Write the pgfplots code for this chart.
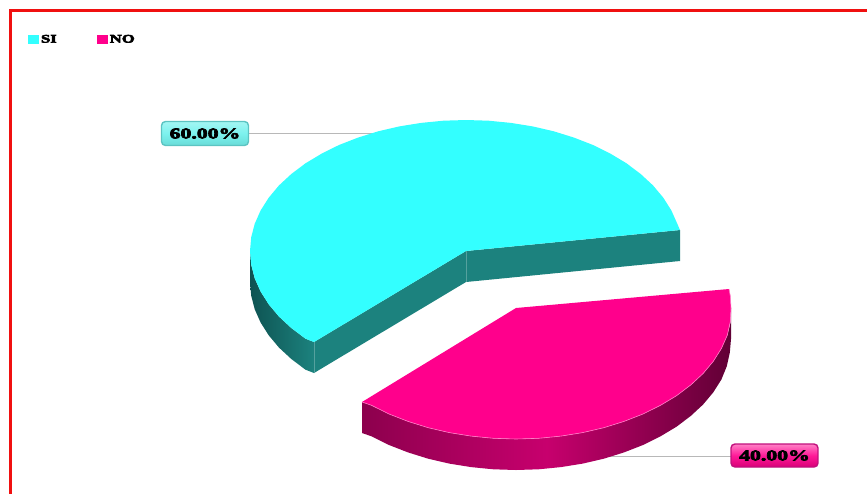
\documentclass[border=0pt]{standalone}
\usepackage{fontspec}
\usepackage{pgfplots}
\pgfplotsset{compat=1.18}
\newfontfamily\fat[FakeStretch=1.45,BoldFeatures={FakeBold=5}]{Liberation Serif}
\definecolor{siTop}{HTML}{33FFFF}
\definecolor{siFace}{HTML}{1C827E}
\definecolor{siDark}{HTML}{0E5352}
\definecolor{noTop}{HTML}{FF008C}
\definecolor{noEdge}{HTML}{FF7CC6}
\definecolor{frame}{HTML}{F01010}
\definecolor{siBox}{HTML}{7CF2EE}
\definecolor{siBoxEdge}{HTML}{5CC4C2}
\definecolor{noBoxEdge}{HTML}{C0107C}
\begin{document}
\begin{tikzpicture}
\useasboundingbox (0pt,0pt) rectangle (867pt,493pt);
\begin{axis}[
  at={(0pt,0pt)}, anchor=south west,
  scale only axis, width=867pt, height=493pt,
  xmin=0, xmax=867, ymin=0, ymax=493, y dir=reverse,
  axis lines=none, clip=true,
  legend image code/.code={\fill[#1,draw=none] (0pt,-4.5pt) rectangle (11pt,4.5pt);},
  legend columns=2,
  legend style={at={(axis cs:28,39.5)}, anchor=west, draw=none, fill=none,
    inner sep=0pt, outer sep=0pt, font=\fat\bfseries\fontsize{11.5}{12}\selectfont,
    /tikz/every odd column/.append style={column sep=0pt},
    /tikz/every even column/.append style={column sep=38pt}},
]
\addlegendimage{fill=siTop}
\addlegendentry{SI}
\addlegendimage{fill=noTop}
\addlegendentry{NO}

% outer frame
\addplot[forget plot, frame, line width=2.2pt] coordinates {(10.5,500)(10.5,10.5)(875,10.5)};

% leader lines
\addplot[forget plot, black!28, line width=0.8pt] coordinates {(249,133.5)(380,133.5)};
\addplot[forget plot, black!28, line width=0.8pt] coordinates {(600,456.5)(731,456.5)};

% SI slice (60 %): outer rim, cut faces, top
\addplot[forget plot, draw=none, left color=siDark, right color=siFace] coordinates {
  (250,251)(251.2,264.7)(254.7,278.2)(260.6,291.5)(268.7,304.3)(278.9,316.5)(291.3,328)(305.5,338.7)(314,342)
  (314,373)(305.5,369.7)(291.3,359)(278.9,347.5)(268.7,335.3)(260.6,322.5)(254.7,309.2)(251.2,295.7)(250,282)};
\addplot[forget plot, draw=none, fill=siFace] coordinates {(314,342)(466,251)(466,282)(314,373)};
\addplot[forget plot, draw=none, fill=siFace] coordinates {(466,251)(680,230)(680,261)(466,282)};
\addplot[forget plot, siFace!75!white, line width=0.5pt] coordinates {(314,342)(314,373)};
\addplot[forget plot, siFace!75!white, line width=0.5pt] coordinates {(466,251)(466,282)};
\addplot[forget plot, draw=none, fill=siTop] coordinates {
  (466,251)(680,230)(677.3,223.8)(671.4,210.5)(663.3,197.7)(653.1,185.5)(640.7,174)(626.5,163.3)(610.5,153.7)
  (593,145)(574,137.6)(553.8,131.3)(532.7,126.4)(510.9,122.9)(488.6,120.7)(466,120)(443.4,120.7)(421.1,122.9)
  (399.3,126.4)(378.2,131.3)(358,137.6)(339,145)(321.5,153.7)(305.5,163.3)(291.3,174)(278.9,185.5)(268.7,197.7)
  (260.6,210.5)(254.7,223.8)(251.2,237.3)(250,251)(251.2,264.7)(254.7,278.2)(260.6,291.5)(268.7,304.3)
  (278.9,316.5)(291.3,328)(305.5,338.7)(314,342)};

% NO slice (40 %): outer rim, top, lit edge
\addplot[forget plot, draw=none, left color=black!45!noTop, right color=black!62!noTop, middle color=black!22!noTop] coordinates {
  (362,402)(371.5,405.3)(389,414)(408,421.4)(428.2,427.7)(449.3,432.6)(471.1,436.1)(493.4,438.3)(516,439)
  (538.6,438.3)(560.9,436.1)(582.7,432.6)(603.8,427.7)(624,421.4)(643,414)(660.5,405.3)(676.5,395.7)(690.7,385)
  (703.1,373.5)(713.3,361.3)(721.4,348.5)(727.3,335.2)(730.8,321.7)(731,308)
  (731,339)(729.8,352.7)(726.8,366.2)(721.4,379.5)(713.3,392.3)(703.1,404.5)(690.7,416)(676.5,426.7)(660.5,436.3)
  (643,445)(624,452.4)(603.8,458.7)(582.7,463.6)(560.9,467.1)(538.6,469.3)(516,470)(493.4,469.3)(471.1,467.1)
  (449.3,463.6)(428.2,458.7)(408,452.4)(389,445)(371.5,436.3)(362,433)};
\addplot[forget plot, draw=none, fill=noTop] coordinates {
  (516,308)(362,402)(371.5,405.3)(389,414)(408,421.4)(428.2,427.7)(449.3,432.6)(471.1,436.1)(493.4,438.3)(516,439)
  (538.6,438.3)(560.9,436.1)(582.7,432.6)(603.8,427.7)(624,421.4)(643,414)(660.5,405.3)(676.5,395.7)(690.7,385)
  (703.1,373.5)(713.3,361.3)(721.4,348.5)(727.3,335.2)(730.3,321.7)(731,308)(730.3,296)(729,289)};
\addplot[forget plot, noEdge, line width=0.6pt] coordinates {
  (362,402)(371.5,405.3)(389,414)(408,421.4)(428.2,427.7)(449.3,432.6)(471.1,436.1)(493.4,438.3)(516,439)
  (538.6,438.3)(560.9,436.1)(582.7,432.6)(603.8,427.7)(624,421.4)(643,414)(660.5,405.3)(676.5,395.7)(690.7,385)
  (703.1,373.5)(713.3,361.3)(721.4,348.5)(727.3,335.2)(730.3,321.7)(731,308)(730.3,296)(729,289)};

% value callouts
\node[draw=siBoxEdge, line width=1.4pt, rounded corners=4pt, top color=siBox!70!white, bottom color=siBox!80!siFace,
      middle color=siBox, minimum width=87pt, minimum height=24pt, inner sep=0pt,
      font=\fat\bfseries\fontsize{15}{15}\selectfont] at (axis cs:205,133.5) {60.00\%};
\node[draw=noBoxEdge, line width=1.4pt, rounded corners=4pt, top color=noTop!50!white, bottom color=noTop!85!black,
      middle color=noTop!90!white, minimum width=87pt, minimum height=23pt, inner sep=0pt,
      font=\fat\bfseries\fontsize{15}{15}\selectfont] at (axis cs:774.5,455.5) {40.00\%};
\end{axis}
\end{tikzpicture}
\end{document}
